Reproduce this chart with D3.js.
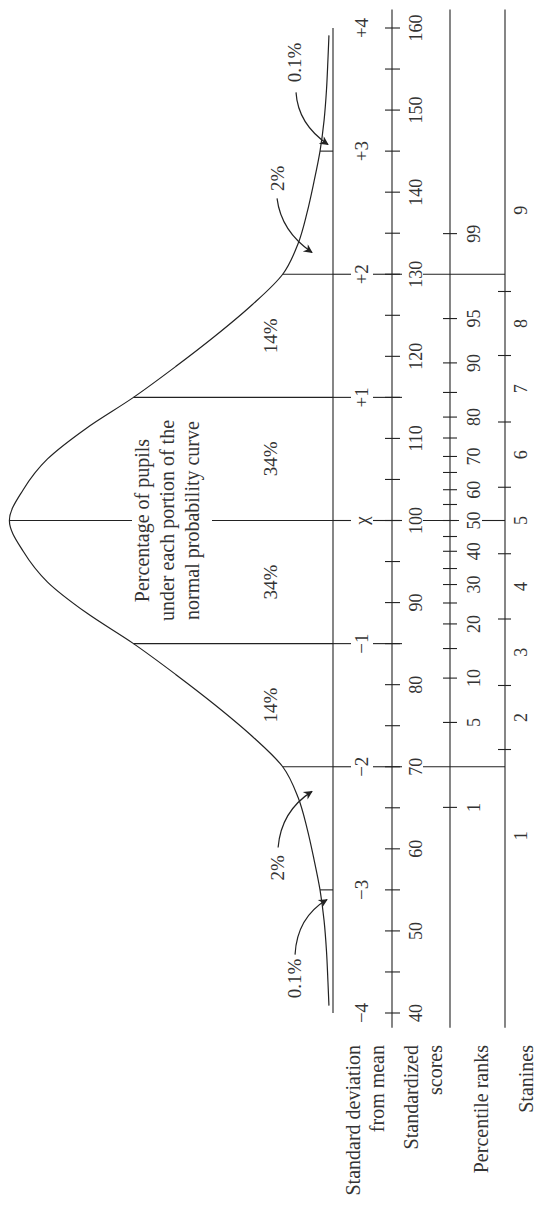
<!DOCTYPE html>
<html>
<head>
<meta charset="utf-8">
<script src="https://cdn.jsdelivr.net/npm/d3@7"></script>
<style>
body { margin: 0; background: #fff; }
text { font-family: "Liberation Serif", "Times New Roman", serif; fill: #333; }
</style>
</head>
<body>
<script>
// Curve: z (SD from mean) and ordinate (density units)
var curveZ = [-3.94, -3.75, -3.5, -3.25, -3, -2.75, -2.5, -2.25, -2, -1.75, -1.5, -1.25, -1, -0.75, -0.5, -0.25, 0,
              0.25, 0.5, 0.75, 1, 1.25, 1.5, 1.75, 2, 2.25, 2.5, 2.75, 3, 3.25, 3.5, 3.75, 3.94];
var curveY = [0.005, 0.0062, 0.008, 0.011, 0.016, 0.0235, 0.032, 0.043, 0.062, 0.100, 0.145, 0.194, 0.246, 0.304, 0.352, 0.382, 0.399,
              0.382, 0.352, 0.304, 0.246, 0.194, 0.145, 0.100, 0.062, 0.043, 0.032, 0.0235, 0.016, 0.011, 0.008, 0.0062, 0.005];

// SD row
var sdTicks = [-4, -3, -2, -1, 0, 1, 2, 3, 4];
var sdLabels = ["\u22124", "\u22123", "\u22122", "\u22121", "\u03c7", "+1", "+2", "+3", "+4"];
var sdLines = [-3, -2, -1, 0, 1, 2, 3];
var sdLong = [-2, -1, 0, 1, 2];
var sdFull = [-2, 0, 2];

// Standardized scores (mean 100, sd 15)
var scoreTicks = [40, 45, 50, 55, 60, 65, 70, 75, 80, 85, 90, 95, 100, 105, 110, 115, 120, 125, 130, 135, 140, 145, 150, 155, 160];
var scoreLabels = [40, 50, 60, 70, 80, 90, 100, 110, 120, 130, 140, 150, 160];

// Percentile ranks and where they sit in SD units
var pctTicks = [1, 5, 10, 15, 20, 25, 30, 35, 40, 45, 50, 55, 60, 65, 70, 75, 80, 85, 90, 95, 99];
var pctTickZ = [-2.33, -1.64, -1.28, -1.04, -0.84, -0.67, -0.52, -0.39, -0.25, -0.13, 0,
                0.13, 0.25, 0.39, 0.52, 0.67, 0.84, 1.04, 1.28, 1.64, 2.33];
var pctLabels = [1, 5, 10, 20, 30, 40, 50, 60, 70, 80, 90, 95, 99];

// Stanines
var stanineBounds = [-1.86, -1.34, -0.80, -0.27, 0.27, 0.80, 1.34, 1.86];
var stanines = [1, 2, 3, 4, 5, 6, 7, 8, 9];
var stanineZ = [-2.56, -1.60, -1.07, -0.535, 0, 0.535, 1.07, 1.60, 2.52];

// Area percentages
var areaLabels = ["0.1%", "2%", "14%", "34%", "34%", "14%", "2%", "0.1%"];
var areaZ = [-3.72, -2.82, -1.5, -0.5, 0.5, 1.5, 2.78, 3.72];
var areaY = [0.039, 0.061, 0.069, 0.069, 0.069, 0.069, 0.061, 0.039];

// Arrows: start, control, tip (z, ordinate)
var arrows = [
    [[3.477, 0.0456], [3.22, 0.0432], [3.054, 0.0062]],
    [[2.616, 0.069], [2.348, 0.064], [2.177, 0.0259]],
    [[-2.656, 0.0677], [-2.36, 0.064], [-2.20, 0.0259]],
    [[-3.526, 0.0468], [-3.225, 0.0444], [-3.079, 0.0074]]
];

var centerText = ["Percentage of pupils", "under each portion of the", "normal probability curve"];
var rowNames = [["Standard deviation", "from mean"], ["Standardized", "scores"], ["Percentile ranks"], ["Stanines"]];

var width = 537;
var height = 1206;
var ink = "#222";

// rows (drawn unrotated, then the group is turned -90deg)
var row = {base: 333, sdLab: 368, score: 392, scoreLab: 422, pct: 450, pctLab: 480, stan: 505, stanLab: 527};

var svg = d3.select("body")
.append("svg")
    .attr("width", width)
    .attr("height", height);

svg.append("defs").append("marker")
    .attr("id", "head")
    .attr("viewBox", "0 0 10 10")
    .attr("refX", 9)
    .attr("refY", 5)
    .attr("markerWidth", 11)
    .attr("markerHeight", 9)
    .attr("markerUnits", "userSpaceOnUse")
    .attr("orient", "auto")
.append("path")
    .attr("d", "M0,0 L10,5 L0,10 L3,5 z")
    .attr("fill", ink);

const g = svg.append("g")
    .attr("transform", "translate(0," + height + ") rotate(-90)");

//Scales
var x = d3.scaleLinear()
    .domain([-4, 4])
    .range([193, 1178]);

var y = d3.scaleLinear()
    .domain([0, 0.4])
    .range([row.base, row.base - 324.4]);

var score = d3.scaleLinear()
    .domain([100, 115])
    .range([x(0), x(1)]);

function seg(u1, v1, u2, v2) {
    g.append("line")
        .attr("x1", u1).attr("y1", v1)
        .attr("x2", u2).attr("y2", v2)
        .attr("stroke", ink)
        .attr("stroke-width", 1.1);
}

//Axis lines
seg(x(-4), row.base, x(4), row.base);
[row.score, row.pct, row.stan].forEach(function(v) {
    seg(x(-4.12), v, x(4.15), v);
});

//Curve
var curvePts = curveZ.map(function(z, i) { return [z, curveY[i]]; });
g.append("path")
    .datum(curvePts)
    .attr("fill", "none")
    .attr("stroke", ink)
    .attr("stroke-width", 1.2)
    .attr("d", d3.line()
        .x(function(d) { return x(d[0]); })
        .y(function(d) { return y(d[1]); })
        .curve(d3.curveMonotoneX));

//SD boundary lines
sdLines.forEach(function(z) {
    var top = y(curveY[curveZ.indexOf(z)]);
    if (z === 0) {
        seg(x(z), top, x(z), 132);
        seg(x(z), 212, x(z), row.base);
    } else {
        seg(x(z), top, x(z), row.base);
    }
});
sdLong.forEach(function(z) {
    seg(x(z), row.base, x(z), 351);
    seg(x(z), 373, x(z), 402);
});
sdFull.forEach(function(z) {
    if (z === 0) {
        // break for the "50" label
        seg(x(z), 423, x(z), 459);
        seg(x(z), 482, x(z), row.stan);
    } else {
        seg(x(z), 423, x(z), row.stan);
    }
});

//SD labels
g.selectAll(".sd-label")
    .data(sdTicks)
    .enter()
    .append("text")
        .attr("class", "sd-label")
        .attr("x", function(d) { return x(d); })
        .attr("y", row.sdLab)
        .attr("text-anchor", "middle")
        .attr("font-size", "19px")
        .text(function(d, i) { return sdLabels[i]; });

//Standardized scores
g.selectAll(".score-tick")
    .data(scoreTicks)
    .enter()
    .append("line")
        .attr("class", "score-tick")
        .attr("x1", function(d) { return score(d); })
        .attr("x2", function(d) { return score(d); })
        .attr("y1", row.score - 7)
        .attr("y2", row.score + 8)
        .attr("stroke", ink)
        .attr("stroke-width", 1.1);

g.selectAll(".score-label")
    .data(scoreLabels)
    .enter()
    .append("text")
        .attr("class", "score-label")
        .attr("x", function(d) { return score(d); })
        .attr("y", row.scoreLab)
        .attr("text-anchor", "middle")
        .attr("font-size", "18px")
        .text(function(d) { return d; });

//Percentile ranks
g.selectAll(".pct-tick")
    .data(pctTicks)
    .enter()
    .append("line")
        .attr("class", "pct-tick")
        .attr("x1", function(d, i) { return x(pctTickZ[i]); })
        .attr("x2", function(d, i) { return x(pctTickZ[i]); })
        .attr("y1", row.pct - 7)
        .attr("y2", row.pct + 7)
        .attr("stroke", ink)
        .attr("stroke-width", 1.1);

g.selectAll(".pct-label")
    .data(pctLabels)
    .enter()
    .append("text")
        .attr("class", "pct-label")
        .attr("x", function(d) { return x(pctTickZ[pctTicks.indexOf(d)]); })
        .attr("y", row.pctLab)
        .attr("text-anchor", "middle")
        .attr("font-size", "18px")
        .text(function(d) { return d; });

//Stanines
g.selectAll(".stan-tick")
    .data(stanineBounds)
    .enter()
    .append("line")
        .attr("class", "stan-tick")
        .attr("x1", function(d) { return x(d); })
        .attr("x2", function(d) { return x(d); })
        .attr("y1", row.stan - 7)
        .attr("y2", row.stan + 6)
        .attr("stroke", ink)
        .attr("stroke-width", 1.1);

g.selectAll(".stan-label")
    .data(stanines)
    .enter()
    .append("text")
        .attr("class", "stan-label")
        .attr("x", function(d, i) { return x(stanineZ[i]); })
        .attr("y", row.stanLab)
        .attr("text-anchor", "middle")
        .attr("font-size", "18px")
        .text(function(d) { return d; });

//Area labels
g.selectAll(".area-label")
    .data(areaLabels)
    .enter()
    .append("text")
        .attr("class", "area-label")
        .attr("x", function(d, i) { return x(areaZ[i]); })
        .attr("y", function(d, i) { return y(areaY[i]); })
        .attr("text-anchor", "middle")
        .attr("font-size", "19px")
        .text(function(d) { return d; });

//Arrows
g.selectAll(".arrow")
    .data(arrows)
    .enter()
    .append("path")
        .attr("class", "arrow")
        .attr("fill", "none")
        .attr("stroke", ink)
        .attr("stroke-width", 1.2)
        .attr("marker-end", "url(#head)")
        .attr("d", function(d) {
            return "M" + x(d[0][0]) + "," + y(d[0][1]) +
                " Q" + x(d[1][0]) + "," + y(d[1][1]) +
                " " + x(d[2][0]) + "," + y(d[2][1]);
        });

//Center text
g.selectAll(".center-text")
    .data(centerText)
    .enter()
    .append("text")
        .attr("class", "center-text")
        .attr("x", x(0))
        .attr("y", function(d, i) { return 149 + i * 25; })
        .attr("text-anchor", "middle")
        .attr("font-size", "20px")
        .text(function(d) { return d; });

//Row names
var rowBase = [360, 418, 488, 533];
rowNames.forEach(function(lines, r) {
    lines.forEach(function(t, i) {
        g.append("text")
            .attr("x", 161)
            .attr("y", rowBase[r] + i * 24)
            .attr("text-anchor", "end")
            .attr("font-size", "20px")
            .text(t);
    });
});
</script>
</body>
</html>
